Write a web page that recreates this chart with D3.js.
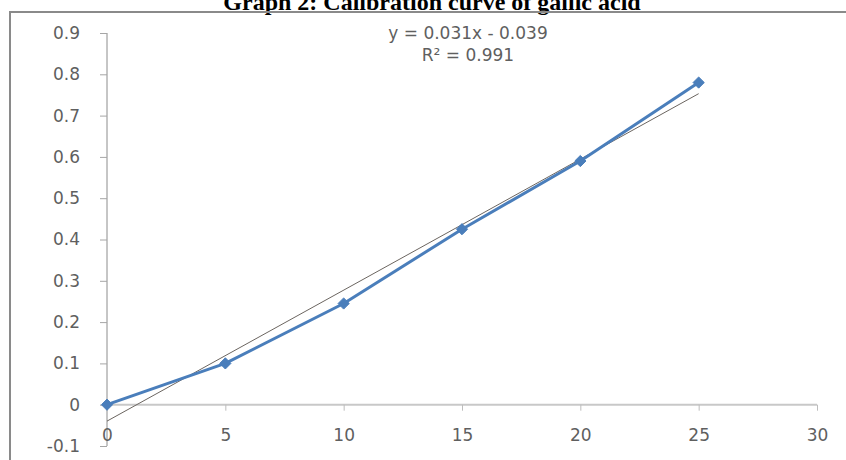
<!DOCTYPE html>
<html lang="en">
<head>
  <meta charset="UTF-8">
  <title>Graph 2: Calibration curve of gallic acid</title>
  <style>
    body { margin: 0; background: #fff; }
    svg { display: block; }
    .tick text { font-family: "DejaVu Sans", Verdana, sans-serif; font-size: 17px; fill: #5f5f5f; }
    .eq { font-family: "DejaVu Sans", Verdana, sans-serif; font-size: 17px; fill: #5f5f5f; }
  </style>
</head>
<body>
  <svg width="846" height="460"></svg>
  <script src="https://d3js.org/d3.v7.min.js"></script>
  <script>
    const concentration = [0, 5, 10, 15, 20, 25];
    const absorbance = [0, 0.1, 0.245, 0.425, 0.59, 0.78];
    const xTicks = [0, 5, 10, 15, 20, 25, 30];
    const yTicks = [-0.1, 0, 0.1, 0.2, 0.3, 0.4, 0.5, 0.6, 0.7, 0.8, 0.9];
    const equationText = "y = 0.031x - 0.039";
    const r2Text = "R² = 0.991";

    const svg = d3.select("svg");

    const x = d3.scaleLinear().domain([0, 30]).range([107, 817]);
    const y = d3.scaleLinear().domain([-0.1, 0.9]).range([446, 33]);

    // title, its top cut off as in the scan
    svg.append("text")
      .attr("x", 432).attr("y", 10)
      .attr("text-anchor", "middle")
      .style("font-family", "'Liberation Serif', 'Times New Roman', serif")
      .style("font-weight", "bold")
      .style("font-size", "24px")
      .text("Graph 2: Calibration curve of gallic acid");

    // chart frame
    svg.append("path")
      .attr("d", "M10,460 V12 H846")
      .attr("fill", "none")
      .attr("stroke", "#8a8a8a")
      .attr("stroke-width", 2);

    // y axis
    const yAxis = svg.append("g")
      .attr("transform", `translate(${x(0)},0)`)
      .call(d3.axisLeft(y).tickValues(yTicks).tickSize(7).tickPadding(20)
        .tickFormat(d => String(+d.toFixed(1))));
    yAxis.select(".domain").attr("stroke", "#8c8c8c").attr("d", `M0,${y(-0.1)}V${y(0.9)}`);
    yAxis.selectAll(".tick line").attr("stroke", "#a6a6a6");

    // x axis at y = 0
    const xAxis = svg.append("g")
      .attr("transform", `translate(0,${y(0)})`)
      .call(d3.axisBottom(x).tickValues(xTicks).tickSize(6).tickPadding(18));
    xAxis.select(".domain").attr("stroke", "#c8c8c8").attr("stroke-width", 2)
      .attr("d", `M${x(0)},0H${x(30)}`);
    xAxis.selectAll(".tick line").attr("stroke", "#bdbdbd");

    // linear trendline fitted to the data
    const mx = d3.mean(concentration), my = d3.mean(absorbance);
    const slope = d3.sum(concentration, (c, i) => (c - mx) * (absorbance[i] - my)) /
                  d3.sum(concentration, c => (c - mx) * (c - mx));
    const intercept = my - slope * mx;
    const xs = d3.extent(concentration);
    svg.append("line")
      .attr("x1", x(xs[0])).attr("y1", y(slope * xs[0] + intercept))
      .attr("x2", x(xs[1])).attr("y2", y(slope * xs[1] + intercept))
      .attr("stroke", "#6b6560")
      .attr("stroke-width", 1);

    // data series
    const pts = concentration.map((c, i) => [c, absorbance[i]]);
    svg.append("path")
      .datum(pts)
      .attr("fill", "none")
      .attr("stroke", "#4a7ebb")
      .attr("stroke-width", 3)
      .attr("stroke-linejoin", "round")
      .attr("d", d3.line().x(d => x(d[0])).y(d => y(d[1])));

    svg.append("g")
      .selectAll("path")
      .data(pts)
      .join("path")
      .attr("transform", d => `translate(${x(d[0])},${y(d[1])})`)
      .attr("d", d3.symbol().type(d3.symbolDiamond2).size(80))
      .attr("fill", "#4a7ebb")
      .attr("stroke", "#4a7ebb")
      .attr("stroke-width", 1);

    // trendline label
    svg.append("text").attr("class", "eq")
      .attr("x", 468).attr("y", 39).attr("text-anchor", "middle")
      .text(equationText);
    svg.append("text").attr("class", "eq")
      .attr("x", 468).attr("y", 61).attr("text-anchor", "middle")
      .text(r2Text);
  </script>
</body>
</html>
